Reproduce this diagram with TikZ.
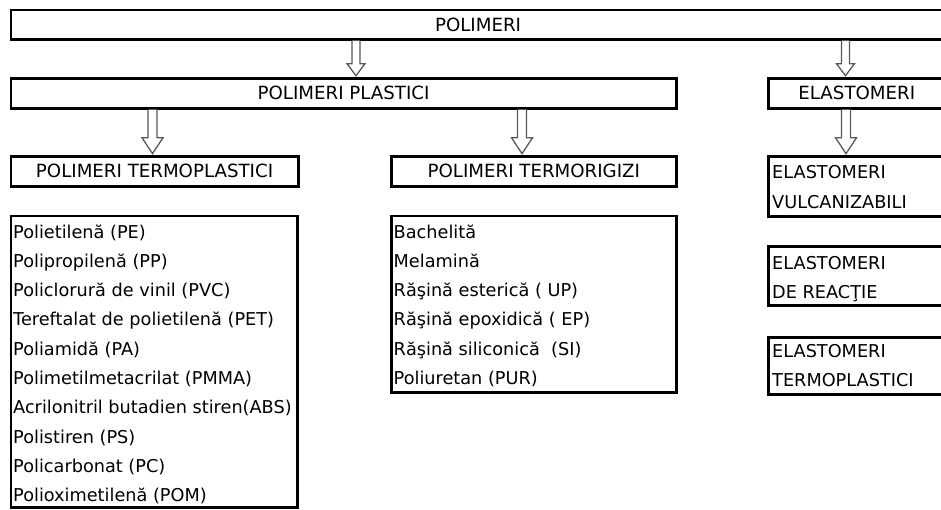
\documentclass[tikz,border=0pt]{standalone}
\usepackage{fontspec}
\setmainfont{DejaVu Sans}
\usetikzlibrary{calc}

\tikzset{
  box/.style={draw=black, line width=2.6pt, fill=white, inner sep=0pt, anchor=north west},
  headtext/.style={font=\fontsize{18.2}{20}\selectfont},
  itemtext/.style={font=\fontsize{17.7}{20}\selectfont, inner sep=0pt, anchor=base west},
  arrowline/.style={draw=black!65, line width=1.3pt, fill=white, line join=miter},
}

% hollow block arrow: #1 start, #2 tip, #3 shaft half width, #4 head half width, #5 head length
\newcommand{\hollowarrow}[5]{%
  \draw[arrowline] ($(#1)+(-#3,0)$) -- ($(#2)+(-#3,-#5)$) -- ($(#2)+(-#4,-#5)$) -- (#2)
    -- ($(#2)+(#4,-#5)$) -- ($(#2)+(#3,-#5)$) -- ($(#1)+(#3,0)$);}

\begin{document}
\begin{tikzpicture}[x=1pt, y=-1pt]
\useasboundingbox (0,0) rectangle (941,509);

% boxes
\node[box, headtext, minimum width=934.5pt, minimum height=29.5pt] (polimeri) at (9.5,8.5) {POLIMERI};
\node[box, headtext, minimum width=665.5pt, minimum height=30pt] (plastici) at (9.5,77) {POLIMERI PLASTICI};
\node[box, headtext, minimum width=177pt, minimum height=30pt] (elastomeri) at (767,77) {ELASTOMERI};
\node[box, headtext, minimum width=287.5pt, minimum height=30pt] (termoplastici) at (9.5,155) {POLIMERI TERMOPLASTICI};
\node[box, headtext, minimum width=285pt, minimum height=30pt] (termorigizi) at (390,155) {POLIMERI TERMORIGIZI};

\node[box, minimum width=286.5pt, minimum height=291.5pt] (list1) at (9.5,214.5) {};
\node[box, minimum width=285pt, minimum height=176.5pt] (list2) at (390,214.5) {};

\node[box, minimum width=177pt, minimum height=60pt] (vulcan) at (767,155) {};
\node[box, minimum width=177pt, minimum height=59pt] (reactie) at (767,245) {};
\node[box, minimum width=177pt, minimum height=57pt] (eltermo) at (767,336) {};

% list contents
\foreach \t [count=\i] in {Polietilenă (PE), Polipropilenă (PP), Policlorură de vinil (PVC),
    Tereftalat de polietilenă (PET), Poliamidă (PA), Polimetilmetacrilat (PMMA),
    Acrilonitril butadien stiren(ABS), Polistiren (PS), Policarbonat (PC), Polioximetilenă (POM)}
  \node[itemtext] (ta\i) at ($(list1.north west)+(3.5,{23.5+29.3*(\i-1)})$) {\t};

\foreach \t [count=\i] in {Bachelită, Melamină, Răşină esterică ( UP), Răşină epoxidică ( EP),
    Răşină siliconică~ (SI), Poliuretan (PUR)}
  \node[itemtext] (tb\i) at ($(list2.north west)+(3.5,{23.5+29.3*(\i-1)})$) {\t};

% elastomer categories
\node[itemtext] (v1) at ($(vulcan.north west)+(5,23.5)$) {ELASTOMERI};
\node[itemtext] (v2) at ($(vulcan.north west)+(5,53)$) {VULCANIZABILI};
\node[itemtext] (r1) at ($(reactie.north west)+(5,24)$) {ELASTOMERI};
\node[itemtext] (r2) at ($(reactie.north west)+(5,53)$) {DE REACŢIE};
\node[itemtext] (e1) at ($(eltermo.north west)+(5,21.5)$) {ELASTOMERI};
\node[itemtext] (e2) at ($(eltermo.north west)+(5,50.5)$) {TERMOPLASTICI};

% arrow columns
\coordinate (xa) at (356,0);
\coordinate (xb) at (845.5,0);
\coordinate (xc) at (152.5,0);
\coordinate (xd) at (522,0);
\coordinate (xe) at (846,0);

\coordinate (as) at (polimeri.south -| xa);
\coordinate (at) at ($(plastici.north -| xa)+(0,-1.3)$);
\coordinate (bs) at (polimeri.south -| xb);
\coordinate (bt) at ($(elastomeri.north -| xb)+(0,-1.3)$);
\coordinate (cs) at (plastici.south -| xc);
\coordinate (ct) at ($(termoplastici.north -| xc)+(0,-1.3)$);
\coordinate (ds) at (plastici.south -| xd);
\coordinate (dt) at ($(termorigizi.north -| xd)+(0,-1.3)$);
\coordinate (es) at (elastomeri.south -| xe);
\coordinate (et) at ($(vulcan.north -| xe)+(0,-1.3)$);

\hollowarrow{as}{at}{4}{9}{12}
\hollowarrow{bs}{bt}{4}{9}{12}
\hollowarrow{cs}{ct}{4.5}{10.5}{16}
\hollowarrow{ds}{dt}{4.5}{10.5}{16}
\hollowarrow{es}{et}{4.5}{10.5}{16}
\end{tikzpicture}
\end{document}
